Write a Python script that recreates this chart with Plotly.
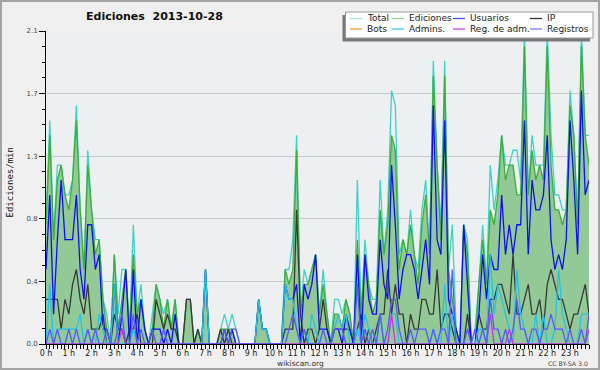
import plotly.graph_objects as go

# ---------------- data (edits per 10-minute bucket, 144 buckets) ----------------
hours = list(range(24))
tick_labels = [f"{h} h" for h in hours]
y_tick_vals = [0, 0.42, 0.84, 1.26, 1.68, 2.1]
y_tick_text = ["0.0", "0.4", "0.8", "1.3", "1.7", "2.1"]

total = [8,15,7,12,12,10,10,11,16,9, 5,13,9,7,7,3,2,0,6,2, 5,5,1,8,2,4,1,0,2,4,
         3,2,3,1,3,0,0,3,3,0, 1,0,5,0,0,0,1,2,1,2, 1,0,0,0,0,0,3,1,1,0,
         0,0,0,5,5,7,14,2,5,4, 5,6,2,5,2,0,3,3,2,3, 2,0,11,2,7,4,3,3,11,6,
         9,17,16,6,7,6,9,6,5,9, 11,6,19,12,8,19,5,8,1,0, 8,7,0,1,4,8,4,12,9,11,
         14,12,12,13,13,11,21,10,14,12, 12,12,21,14,10,10,9,9,17,14, 8,21,14,14]
ediciones = [8,14,7,11,12,10,9,11,15,9, 5,12,9,6,7,3,1,0,6,1, 3,5,1,6,2,3,1,0,1,4,
             3,1,3,1,3,0,0,3,3,0, 1,0,5,0,0,0,1,1,1,1, 0,0,0,0,0,0,3,1,1,0,
             0,0,0,5,4,5,13,2,4,4, 5,6,2,4,2,0,2,2,1,3, 2,0,7,2,6,4,2,3,9,6,
             8,14,13,5,7,6,8,6,4,8, 10,6,18,12,7,18,5,3,1,0, 8,6,0,0,4,7,4,9,8,10,
             14,11,12,12,10,10,20,10,13,11, 12,11,20,12,9,9,8,9,16,14, 8,20,14,12]
usuarios = [5,10,2,7,11,7,7,7,10,5, 3,8,8,5,6,1,1,0,4,0, 2,5,0,5,0,3,1,0,1,1,
            1,0,1,0,2,0,0,0,0,0, 0,0,5,0,0,0,0,1,0,1, 0,0,0,0,0,0,3,1,1,0,
            0,0,0,4,3,3,4,0,4,3, 4,6,1,1,1,0,1,1,0,2, 1,0,6,0,6,3,2,2,7,4,
            3,12,8,3,5,6,6,5,3,5, 7,4,16,7,6,15,3,2,1,0, 8,4,0,0,2,6,3,6,5,5,
            10,6,8,6,8,8,15,6,11,9, 9,10,14,7,5,6,5,7,15,11, 6,17,10,11]
ip = [3,3,3,3,1,3,2,4,5,3, 2,4,1,1,1,2,0,0,2,1, 1,0,1,1,2,0,0,0,0,3,
      2,1,2,1,1,0,0,3,3,0, 1,0,0,0,0,0,1,0,1,0, 0,0,0,0,0,0,0,0,0,0,
      0,0,0,1,1,1,9,2,0,1, 1,0,1,3,1,0,1,1,1,1, 1,0,1,2,0,1,0,1,2,2,
      5,2,4,2,2,0,2,1,1,3, 3,2,2,5,1,2,2,1,0,0, 0,2,0,0,2,1,1,3,3,4,
      4,3,2,6,2,2,3,4,2,2, 3,1,4,5,4,3,3,2,1,2, 2,3,4,2]
bots = [0] * 144
admins = [0,4,0,1,1,1,1,1,1,2, 0,1,0,0,2,1,0,0,4,0, 0,0,0,1,0,0,0,0,0,0,
          0,0,0,0,0,0,0,0,0,0, 0,0,5,0,0,0,0,0,0,0, 0,0,0,0,0,0,3,1,1,0,
          0,0,0,4,3,3,1,0,1,0, 2,1,0,0,0,0,1,2,1,2, 0,0,1,0,2,1,0,0,2,0,
          0,2,2,0,0,0,0,0,0,0, 0,0,1,0,0,4,0,2,0,0, 0,0,0,0,1,1,0,6,2,4,
          3,2,1,0,5,2,1,0,0,2, 0,2,0,0,1,5,2,1,0,0, 0,2,2,2]
reg_adm = [0]*20 + [1] + [0]*70 + [2] + [0]*25 + [2] + [0]*4 + [1] + [0]*20 + [1]
registros = [0,1,0,1,0,0,1,0,1,0, 0,1,0,1,0,0,1,0,0,1, 2,0,0,2,0,1,0,0,1,0,
             0,1,0,0,0,0,0,0,0,0, 0,0,0,0,0,0,0,1,0,1, 1,0,0,0,0,0,0,0,0,0,
             0,0,0,0,1,2,1,0,1,0, 0,0,0,1,0,0,1,1,1,0, 0,0,4,0,1,0,1,0,2,0,
             1,3,3,1,0,0,1,0,1,1, 1,0,1,0,1,1,0,5,0,0, 0,1,0,1,0,1,0,3,1,1,
             0,1,0,1,3,1,1,0,1,1, 0,1,1,2,1,1,1,0,1,0, 0,1,0,2]

minutes = [i * 10 for i in range(144)]
per_min = lambda arr: [v / 10 for v in arr]   # edits per 10 min -> edits per minute

# ---------------- figure ----------------
W, H = 600, 370
L, R, T, B = 46, 11, 31, 26
PW, PH = W - L - R, H - T - B
def px(x): return (x - L) / PW
def py(y): return (H - B - y) / PH

fig = go.Figure()
def add_line(y, color, width=1.3, fill=None, fillcolor=None):
    fig.add_trace(go.Scatter(x=minutes, y=per_min(y), mode="lines",
                             line=dict(color=color, width=width),
                             fill=fill, fillcolor=fillcolor, showlegend=False,
                             hoverinfo="skip"))

add_line(bots, "#f5a030")
add_line(total, "#3fd2c8")
add_line(ediciones, "#3aae3a", fill="tozeroy", fillcolor="#93c996")
add_line(ip, "#383838")
add_line(usuarios, "#1010ee")
add_line(admins, "#22c4e6")
add_line(reg_adm, "#cc33dd")
add_line(registros, "#5858ff")

font = "DejaVu Sans"
fig.update_layout(
    width=W, height=H, margin=dict(l=L, r=R, t=T, b=B),
    paper_bgcolor="#f0f0f0", plot_bgcolor="#edeff1",
    showlegend=False,
    xaxis=dict(range=[0, 1430], tickvals=[h * 60 for h in hours], ticktext=tick_labels,
               ticks="outside", ticklen=4, tickcolor="black", showline=True,
               linecolor="black", linewidth=1, showgrid=False, zeroline=False,
               ticklabelstandoff=-3,
               tickfont=dict(family=font, size=8, color="#222"),
               minor=dict(dtick=10, ticks="outside", ticklen=4, tickcolor="black", showgrid=False)),
    yaxis=dict(range=[0, 2.1], tickvals=y_tick_vals, ticktext=y_tick_text,
               ticks="outside", ticklen=6, tickcolor="black", showline=True,
               linecolor="black", linewidth=1, showgrid=True, gridcolor="#c9c9c9",
               gridwidth=1, zeroline=False,
               tickfont=dict(family=font, size=7, color="#444"),
               minor=dict(tickvals=[i * 0.105 for i in range(21)], ticks="outside",
                          ticklen=3, tickcolor="black", showgrid=False)),
)

shapes = [
    dict(type="rect", xref="paper", yref="paper", x0=px(1), x1=px(599), y0=py(369), y1=py(1),
         line=dict(color="#a4a4a4", width=2), layer="above"),
    dict(type="rect", xref="paper", yref="paper", x0=px(342.5), x1=px(590), y0=py(41.5), y1=py(15),
         fillcolor="#777777", line=dict(width=0), layer="above"),
    dict(type="rect", xref="paper", yref="paper", x0=px(345.5), x1=px(593), y0=py(38), y1=py(12),
         fillcolor="white", line=dict(color="#999999", width=1), layer="above"),
]
annotations = [
    dict(text="Ediciones  2013-10-28", x=px(154), y=py(16.5), xref="paper", yref="paper",
         showarrow=False, xanchor="center", yanchor="middle",
         font=dict(family=font, size=11, color="#111", weight="bold")),
    dict(text="Ediciones/min", x=px(9.5), y=py(183), xref="paper", yref="paper", textangle=-90,
         showarrow=False, xanchor="center", yanchor="middle",
         font=dict(family="DejaVu Sans Mono", size=9, color="#111")),
    dict(text="wikiscan.org", x=px(300), y=py(363.5), xref="paper", yref="paper",
         showarrow=False, xanchor="center", yanchor="middle",
         font=dict(family=font, size=7.5, color="#333")),
    dict(text="CC BY-SA 3.0", x=px(590), y=py(363.5), xref="paper", yref="paper",
         showarrow=False, xanchor="right", yanchor="middle",
         font=dict(family=font, size=6.2, color="#444")),
]

legend_names = ["Total", "Ediciones", "Usuarios", "IP", "Bots", "Admins.", "Reg. de adm.", "Registros"]
legend_colors = ["#a8e6de", "#8fd48f", "#4a4ae8", "#333333", "#f5a030", "#3cc8e0", "#d040e8", "#7a7af0"]
col_x = [350, 392, 453, 530]
row_y = [18.5, 29]
for k, (name, col) in enumerate(zip(legend_names, legend_colors)):
    cx = col_x[k % 4]
    ry = row_y[k // 4]
    shapes.append(dict(type="line", xref="paper", yref="paper", x0=px(cx), x1=px(cx + 12),
                       y0=py(ry), y1=py(ry), line=dict(color=col, width=1.3), layer="above"))
    annotations.append(dict(text=name, x=px(cx + 15), y=py(ry), xref="paper", yref="paper",
                            showarrow=False, xanchor="left", yanchor="middle",
                            font=dict(family=font, size=9, color="#222")))

fig.update_layout(shapes=shapes, annotations=annotations)
fig.write_html("out.html", config={"displayModeBar": False, "staticPlot": True},
               post_script="document.body.style.margin='0';document.body.style.padding='0';"
                           "document.body.style.overflow='hidden';")
